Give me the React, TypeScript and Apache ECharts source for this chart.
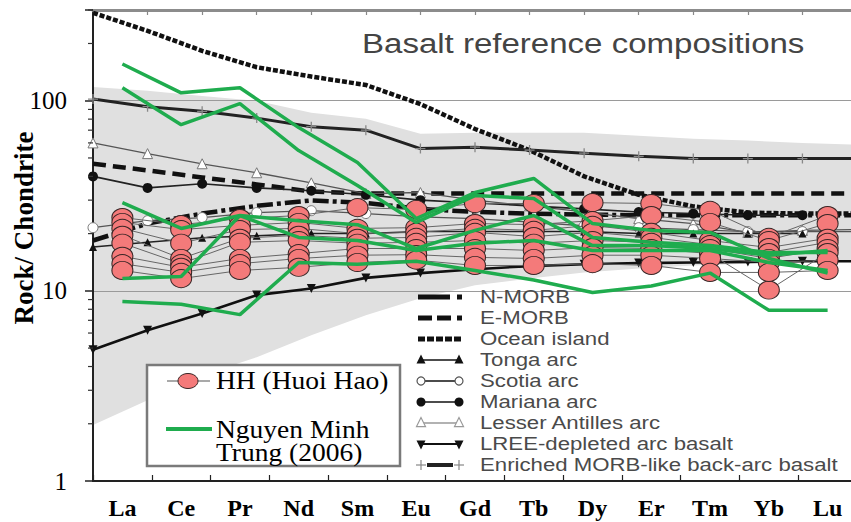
import React, { useEffect, useRef } from 'react';
import * as echarts from 'echarts';

// ---------- overlay categories ----------
const elements = ['La', 'Ce', 'Pr', 'Nd', 'Sm', 'Eu', 'Gd', 'Tb', 'Dy', 'Er', 'Tm', 'Yb', 'Lu'];
const yTickLabels = [1, 10, 100];
const yMinorTicks = [2, 3, 4, 5, 6, 7, 8, 9, 20, 30, 40, 50, 60, 70, 80, 90, 200, 300];
const yAxisTitle = 'Rock/ Chondrite';

// ---------- HH (Huoi Hao) samples ----------
const hh1 = [24.3, 22.3, 24.0, 24.9, 27.4, 26.8, 28.8, 28.8, 29.1, 28.8, 26.5, 19.1, 24.9];
const hh2 = [22.9, 21.0, 22.1, 22.9, 21.3, 21.5, 22.6, 22.3, 23.4, 24.9, 22.9, 18.4, 22.6];
const hh3 = [21.3, 17.8, 21.0, 21.3, 20.0, 20.3, 21.3, 20.8, 22.1, 20.3, 18.4, 16.9, 18.9];
const hh4 = [19.6, 14.8, 18.9, 19.6, 18.9, 19.1, 20.3, 19.3, 20.3, 19.1, 17.5, 15.9, 18.0];
const hh5 = [17.8, 13.9, 18.0, 18.4, 17.8, 18.0, 18.4, 17.8, 18.4, 18.0, 16.7, 14.8, 16.7];
const hh6 = [15.2, 13.3, 14.8, 15.7, 16.7, 16.7, 16.7, 16.3, 16.9, 16.7, 15.7, 10.1, 15.9];
const hh7 = [13.9, 12.5, 13.9, 14.8, 15.4, 15.5, 15.0, 14.8, 15.4, 15.4, 14.8, 14.1, 14.5];
const hh8 = [12.8, 11.6, 12.8, 13.3, 14.1, 14.5, 13.6, 13.6, 13.9, 13.6, 12.5, 12.5, 12.8];
const hhSamples = [hh1, hh2, hh3, hh4, hh5, hh6, hh7, hh8];

// ---------- Nguyen Minh Trung (2006) ----------
const nmt1 = [156, 110, 117, 72.2, 47.3, 24.0, 32.9, 39.0, 22.6, 20.8, 20.3, 14.8, 12.4];
const nmt2 = [117, 74.8, 96.5, 54.7, 35.8, 22.9, 31.7, 30.6, 19.1, 18.0, 17.3, 15.9, 15.9];
const nmt3 = [29.1, 21.3, 24.9, 23.4, 22.3, 16.7, 20.8, 24.9, 17.3, 17.3, 16.7, 15.4, 16.3];
const nmt4 = [11.6, 11.9, 24.9, 19.1, 18.4, 16.3, 17.8, 18.4, 16.3, 16.3, 16.3, 14.1, 12.8];
const nmt5 = [8.8, 8.5, 7.5, 14.1, 13.8, 14.3, 12.8, 11.4, 9.8, 10.6, 12.4, 7.9, 7.9];
const nmtSamples = [nmt1, nmt2, nmt3, nmt4, nmt5];

// ---------- background reference compositions (own positions 0..14) ----------
const refPositions = [0, 1, 2, 3, 4, 5, 6, 7, 8, 9, 10, 11, 12, 13, 14];
const fieldUpper = [118, 113, 106, 100, 86.5, 80.5, 67, 67.8, 67.8, 67.8, 65.5, 63, 61.7, 60, 58.8];
const fieldLower = [1.97, 2.66, 3.6, 4.48, 5.84, 7.44, 9.14, 10.7, 11.6, 12.5, 13.1, 13.6, 13.9, 14.3, 14.5];
const oceanIsland = [290, 233, 183, 150, 134, 121, 96, 71, 55, 40, 32, 27.8, 25.8, 25.5, 25.5];
const enrichedBackArc = [102, 93, 88, 81, 73, 70, 56, 57, 55, 53, 51, 49.6, 49.6, 49.6, 49.6];
const eMorb = [46.6, 43, 39.5, 36.3, 33.3, 32.5, 32.5, 32.5, 32.5, 32.5, 32.5, 32.5, 32.5, 32.5, 32.5];
const nMorb = [18.4, 22.6, 25.5, 28, 29.9, 29, 27, 26, 25.5, 25.2, 25, 25, 25, 25, 25];
const lesserAntilles = [60, 52.7, 46.6, 41.8, 37, 32.5, 32.9, 30, 28, 26, 24, 22.6, 20.3, 20.8, 21];
const scotia = [21.5, 23.4, 24.3, 25.8, 26.4, 25.5, 24.5, 24, 23, 22, 21.5, 21, 20.5, 20.5, 20.5];
const mariana = [40, 34.8, 36.6, 34.8, 33.6, 32, 30, 29, 28, 27, 26, 25.5, 25, 25];
const tonga = [17, 18, 19, 19.5, 20, 20, 20.5, 20.5, 20.5, 20.5, 20, 20, 20, 20];
const lreeDepleted = [4.9, 6.2, 7.6, 9.5, 10.3, 11.7, 12.4, 13, 13.5, 13.8, 14, 14.1, 14.2, 14.3, 14.3];

const refLegendLabels = [
  'N-MORB',
  'E-MORB',
  'Ocean island',
  'Tonga arc',
  'Scotia arc',
  'Mariana arc',
  'Lesser Antilles arc',
  'LREE-depleted arc basalt',
  'Enriched MORB-like back-arc basalt',
];

const GREEN = '#1fac4e';
const PINK = '#f47a7a';
const SANS = '"Liberation Sans", Arial, sans-serif';
const SERIF = '"Liberation Serif", "Times New Roman", serif';

function pairs(arr: number[]) {
  return arr.map((v, i) => [refPositions[i], v]);
}

function tri(cx: number, cy: number, s: number, down: boolean) {
  if (down) return [[cx - s / 2, cy - s * 0.4], [cx + s / 2, cy - s * 0.4], [cx, cy + s * 0.6]];
  return [[cx, cy - s * 0.6], [cx - s / 2, cy + s * 0.4], [cx + s / 2, cy + s * 0.4]];
}

function refLegendGraphics() {
  const g: any[] = [];
  const x0 = 418;
  const x1 = 462;
  refLegendLabels.forEach((label, i) => {
    const y = 297 + 21 * i;
    const z = 20;
    const K = '#111';
    if (i === 0) {
      g.push({ type: 'rect', z, shape: { x: x0, y: y - 2.5, width: 32, height: 5 }, style: { fill: K } });
      g.push({ type: 'rect', z, shape: { x: 457, y: y - 2.5, width: 5, height: 5 }, style: { fill: K } });
    } else if (i === 1) {
      g.push({ type: 'rect', z, shape: { x: x0, y: y - 2.5, width: 14, height: 5 }, style: { fill: K } });
      g.push({ type: 'rect', z, shape: { x: 437, y: y - 2.5, width: 14, height: 5 }, style: { fill: K } });
      g.push({ type: 'rect', z, shape: { x: 457, y: y - 2.5, width: 5, height: 5 }, style: { fill: K } });
    } else if (i === 2) {
      [418, 427, 436, 445, 454].forEach((xx) =>
        g.push({ type: 'rect', z, shape: { x: xx, y: y - 2.5, width: 7, height: 5 }, style: { fill: K } })
      );
    } else if (i >= 3 && i <= 7) {
      const col = i === 6 ? '#999' : K;
      g.push({ type: 'line', z, shape: { x1: x0 + 3, y1: y, x2: x1 - 3, y2: y }, style: { stroke: col, lineWidth: i === 7 ? 2.2 : 1.6 } });
      [x0 + 3, x1 - 3].forEach((cx) => {
        if (i === 3) g.push({ type: 'polygon', z: z + 1, shape: { points: tri(cx, y, 9, false) }, style: { fill: K } });
        if (i === 4) g.push({ type: 'circle', z: z + 1, shape: { cx, cy: y, r: 4 }, style: { fill: '#fff', stroke: '#555', lineWidth: 1.2 } });
        if (i === 5) g.push({ type: 'circle', z: z + 1, shape: { cx, cy: y, r: 4.5 }, style: { fill: K } });
        if (i === 6) g.push({ type: 'polygon', z: z + 1, shape: { points: tri(cx, y, 9, false) }, style: { fill: '#fff', stroke: '#999', lineWidth: 1.2 } });
        if (i === 7) g.push({ type: 'polygon', z: z + 1, shape: { points: tri(cx, y, 9, true) }, style: { fill: K } });
      });
    } else if (i === 8) {
      g.push({ type: 'line', z, shape: { x1: 427, y1: y, x2: 453, y2: y }, style: { stroke: '#222', lineWidth: 4 } });
      [x0 + 3, x1 - 3].forEach((cx) => {
        g.push({ type: 'line', z, shape: { x1: cx - 5, y1: y, x2: cx + 5, y2: y }, style: { stroke: '#888', lineWidth: 1.2 } });
        g.push({ type: 'line', z, shape: { x1: cx, y1: y - 5, x2: cx, y2: y + 5 }, style: { stroke: '#888', lineWidth: 1.2 } });
      });
    }
    g.push({
      type: 'text',
      z,
      x: 480,
      y,
      scaleX: 1.2,
      style: { text: label, fill: '#4a4a4a', font: `18.5px ${SANS}`, verticalAlign: 'middle', align: 'left' },
    });
  });
  return g;
}

export default function App() {
  const ref = useRef<HTMLDivElement>(null);

  useEffect(() => {
    const chart = echarts.init(ref.current as HTMLDivElement, null, { renderer: 'svg' });

    const refLine = (name: string, data: number[], opts: any) => ({
      type: 'line',
      name,
      xAxisIndex: 1,
      yAxisIndex: 0,
      data: pairs(data),
      z: 2,
      silent: true,
      ...opts,
    });

    const series: any[] = [
      {
        type: 'custom',
        name: 'field',
        xAxisIndex: 1,
        yAxisIndex: 0,
        z: -1,
        silent: true,
        data: [[0, 10]],
        renderItem: (_p: any, api: any) => {
          const pts: number[][] = [];
          refPositions.forEach((x, i) => pts.push(api.coord([x, fieldUpper[i]])));
          for (let i = refPositions.length - 1; i >= 0; i--) pts.push(api.coord([refPositions[i], fieldLower[i]]));
          return { type: 'polygon', shape: { points: pts }, style: { fill: '#e0e0e0' } };
        },
      },
      {
        type: 'custom',
        name: 'minorTicks',
        xAxisIndex: 1,
        yAxisIndex: 0,
        z: 5,
        silent: true,
        data: yMinorTicks.map((v) => [0, v]),
        renderItem: (_p: any, api: any) => {
          const p = api.coord([api.value(0), api.value(1)]);
          return {
            type: 'line',
            shape: { x1: p[0] - 5, y1: p[1], x2: p[0], y2: p[1] },
            style: { stroke: '#333', lineWidth: 1.2 },
          };
        },
      },
      refLine('Ocean island', oceanIsland, {
        symbol: 'none',
        lineStyle: { color: '#111', width: 4.5, type: [5, 2] },
      }),
      refLine('Enriched MORB-like back-arc basalt', enrichedBackArc, {
        symbol: 'path://M5,0L5,10M0,5L10,5',
        symbolSize: 10,
        itemStyle: { color: 'none', borderColor: '#888', borderWidth: 1.3 },
        lineStyle: { color: '#222', width: 3 },
      }),
      refLine('E-MORB', eMorb, {
        symbol: 'none',
        lineStyle: { color: '#111', width: 4.5, type: [13, 7] },
      }),
      refLine('N-MORB', nMorb, {
        symbol: 'none',
        lineStyle: { color: '#111', width: 4.5, type: [16, 4, 4, 4] },
      }),
      refLine('Lesser Antilles arc', lesserAntilles, {
        symbol: 'triangle',
        symbolSize: 10,
        itemStyle: { color: '#fff', borderColor: '#777', borderWidth: 1 },
        lineStyle: { color: '#555', width: 1.3 },
      }),
      refLine('Scotia arc', scotia, {
        symbol: 'circle',
        symbolSize: 10,
        itemStyle: { color: '#fff', borderColor: '#777', borderWidth: 1 },
        lineStyle: { color: '#555', width: 1.3 },
      }),
      refLine('Mariana arc', mariana, {
        symbol: 'circle',
        symbolSize: 10,
        itemStyle: { color: '#111' },
        lineStyle: { color: '#222', width: 1.6 },
      }),
      refLine('Tonga arc', tonga, {
        symbol: 'triangle',
        symbolSize: 8,
        itemStyle: { color: '#111' },
        lineStyle: { color: '#222', width: 1.5 },
      }),
      refLine('LREE-depleted arc basalt', lreeDepleted, {
        symbol: 'triangle',
        symbolRotate: 180,
        symbolSize: 9,
        itemStyle: { color: '#111' },
        lineStyle: { color: '#111', width: 2.6 },
      }),
    ];

    hhSamples.forEach((s) =>
      series.push({
        type: 'line',
        name: 'HH (Huoi Hao)',
        xAxisIndex: 0,
        yAxisIndex: 0,
        data: s,
        z: 3,
        symbol: 'circle',
        symbolSize: [21, 18],
        itemStyle: { color: PINK, borderColor: '#3a2626', borderWidth: 1 },
        lineStyle: { color: '#666', width: 1 },
      })
    );
    nmtSamples.forEach((s) =>
      series.push({
        type: 'line',
        name: 'Nguyen Minh Trung (2006)',
        xAxisIndex: 0,
        yAxisIndex: 0,
        data: s,
        z: 4,
        symbol: 'none',
        lineStyle: { color: GREEN, width: 3.5 },
      })
    );

    const option: any = {
      animation: false,
      backgroundColor: '#fff',
      grid: { left: 93, top: 10, width: 764, height: 471, containLabel: false, outerBoundsMode: 'none' },
      xAxis: [
        {
          type: 'category',
          data: elements,
          position: 'bottom',
          boundaryGap: true,
          axisLine: { lineStyle: { color: '#222', width: 2 } },
          axisTick: { show: true, inside: true, length: 6, lineStyle: { color: '#222', width: 1.2 } },
          axisLabel: { color: '#000', fontFamily: SERIF, fontWeight: 'bold', fontSize: 24, margin: 15 },
          splitLine: { show: false },
        },
        {
          type: 'value',
          position: 'top',
          min: 0,
          max: 14,
          interval: 1,
          axisLine: { show: true, lineStyle: { color: '#8c8c8c', width: 3 } },
          axisTick: { show: true, inside: true, length: 5, lineStyle: { color: '#888', width: 1.2 } },
          axisLabel: { show: false },
          splitLine: { show: false },
        },
      ],
      yAxis: [
        {
          type: 'log',
          logBase: 10,
          min: 1,
          max: 300,
          axisLine: { show: true, lineStyle: { color: '#222', width: 2 } },
          axisTick: { show: true, inside: false, length: 8, lineStyle: { color: '#222', width: 1.5 } },
          axisLabel: {
            color: '#000',
            fontFamily: SERIF,
            fontSize: 25,
            margin: 26,
            formatter: (v: number) => {
              const hit = yTickLabels.find((t) => Math.abs(t - v) < 1e-6 * t);
              return hit !== undefined ? String(hit) : '';
            },
          },
          splitLine: { show: true, lineStyle: { color: '#9a9a9a', width: 1 } },
        },
      ],
      series,
      graphic: [
        {
          type: 'text',
          x: 24,
          y: 228,
          rotation: Math.PI / 2,
          z: 20,
          style: {
            text: yAxisTitle,
            fill: '#000',
            font: `bold 27px ${SERIF}`,
            verticalAlign: 'middle',
            align: 'center',
          },
        },
        {
          type: 'text',
          x: 362,
          y: 43,
          scaleX: 1.18,
          z: 20,
          style: {
            text: 'Basalt reference compositions',
            fill: '#444',
            font: `28px ${SANS}`,
            verticalAlign: 'middle',
            align: 'left',
          },
        },
        ...refLegendGraphics(),
        {
          type: 'rect',
          z: 30,
          shape: { x: 147, y: 365, width: 253, height: 101 },
          style: { fill: '#fff', stroke: '#7a7a7a', lineWidth: 2.5 },
        },
        {
          type: 'line',
          z: 31,
          shape: { x1: 167, y1: 381, x2: 210, y2: 381 },
          style: { stroke: '#555', lineWidth: 1.2 },
        },
        {
          type: 'ellipse',
          z: 32,
          shape: { cx: 188, cy: 381, rx: 10, ry: 7.5 },
          style: { fill: PINK, stroke: '#3a2626', lineWidth: 1 },
        },
        {
          type: 'text',
          z: 32,
          x: 216,
          y: 381,
          scaleX: 1.1,
          style: { text: 'HH (Huoi Hao)', fill: '#000', font: `25px ${SERIF}`, verticalAlign: 'middle', align: 'left' },
        },
        {
          type: 'line',
          z: 31,
          shape: { x1: 166, y1: 429, x2: 212, y2: 429 },
          style: { stroke: GREEN, lineWidth: 4 },
        },
        {
          type: 'text',
          z: 32,
          x: 216,
          y: 430,
          scaleX: 1.1,
          style: { text: 'Nguyen Minh', fill: '#000', font: `25px ${SERIF}`, verticalAlign: 'middle', align: 'left' },
        },
        {
          type: 'text',
          z: 32,
          x: 216,
          y: 453,
          scaleX: 1.1,
          style: { text: 'Trung (2006)', fill: '#000', font: `25px ${SERIF}`, verticalAlign: 'middle', align: 'left' },
        },
      ],
    };

    chart.setOption(option);
    return () => chart.dispose();
  }, []);

  return (
    <div
      ref={ref}
      style={{ position: 'fixed', left: 0, top: 0, width: 851, height: 522, background: '#fff', overflow: 'hidden' }}
    />
  );
}
